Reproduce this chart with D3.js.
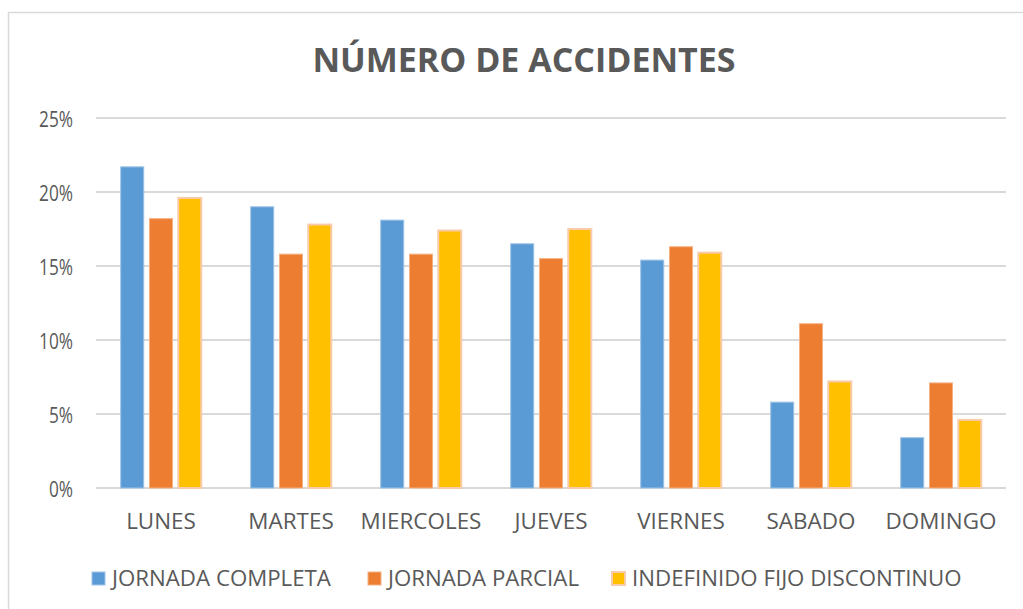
<!DOCTYPE html>
<html><head><meta charset="utf-8">
<script src="https://cdn.jsdelivr.net/npm/d3@7"></script>
<style>body{margin:0;background:#fff}svg{display:block}</style>
</head><body><svg id="c" width="1023" height="609"></svg>
<script>
const categories = ["LUNES","MARTES","MIERCOLES","JUEVES","VIERNES","SABADO","DOMINGO"];
const seriesNames = ["JORNADA COMPLETA","JORNADA PARCIAL","INDEFINIDO FIJO DISCONTINUO"];
const jornadaCompleta = [21.7, 19.0, 18.1, 16.5, 15.4, 5.8, 3.4];
const jornadaParcial = [18.2, 15.8, 15.8, 15.5, 16.3, 11.1, 7.1];
const indefinidoFijo = [19.6, 17.8, 17.4, 17.5, 15.9, 7.2, 4.6];
const yTicks = [0, 5, 10, 15, 20, 25];
const colors = ["#5b9bd5", "#ed7d31", "#ffc000"];
const strokes = ["#9dc3e6", "#f4b183", "#f8cbad"];
const strokeW = [1, 1, 2];
const series = [jornadaCompleta, jornadaParcial, indefinidoFijo];

const svg = d3.select("#c");
const font = "'Open Sans', sans-serif";
function squeeze(sel, f) {
  sel.each(function() {
    const w = this.getComputedTextLength();
    d3.select(this).attr("textLength", w * f).attr("lengthAdjust", "spacingAndGlyphs");
  });
}
// chart border
svg.append("rect").attr("x", 8.5).attr("y", 12.5).attr("width", 1030).attr("height", 620)
  .attr("fill", "#fff").attr("stroke", "#d9d9d9").attr("stroke-width", 1.5);

svg.append("text").attr("x", 524).attr("y", 72).attr("text-anchor", "middle")
  .attr("font-family", font).attr("font-weight", "bold").attr("font-size", 34)
  .attr("fill", "#595959").text("NÚMERO DE ACCIDENTES");

const x0 = d3.scaleBand().domain(categories).range([96, 1006]).paddingInner(0.38).paddingOuter(0.19);
const x1 = d3.scaleBand().domain([0,1,2]).range([0, x0.bandwidth()]).paddingInner(0.2);
const y = d3.scaleLinear().domain([0, 25]).range([488, 118]);

const grid = svg.append("g");
grid.selectAll("line").data(yTicks).join("line")
  .attr("x1", 96).attr("x2", 1006).attr("y1", d => y(d)).attr("y2", d => y(d))
  .attr("stroke", "#d9d9d9").attr("stroke-width", 2);

const yAxis = d3.axisLeft(y).tickValues(yTicks).tickFormat(d => d + "%").tickSize(0).tickPadding(0);
const ya = svg.append("g").attr("transform", "translate(73,0)").call(yAxis);
ya.select(".domain").remove();
ya.selectAll("text").attr("dy", null).attr("y", 8).attr("font-family", font).attr("font-size", 21).attr("fill", "#595959");
squeeze(ya.selectAll("text"), 0.82);

const xAxis = d3.axisBottom(x0).tickSize(0).tickPadding(0);
const xa = svg.append("g").attr("transform", "translate(0,512)").call(xAxis);
xa.select(".domain").remove();
xa.selectAll("text").attr("dy", null).attr("y", 17).attr("font-family", font).attr("font-size", 22).attr("fill", "#595959");
squeeze(xa.selectAll("text"), 1.02);

series.forEach((vals, si) => {
  svg.append("g").selectAll("rect").data(vals).join("rect")
    .attr("x", (d, i) => x0(categories[i]) + x1(si))
    .attr("width", x1.bandwidth())
    .attr("y", d => y(d))
    .attr("height", d => y(0) - y(d))
    .attr("fill", colors[si]).attr("stroke", strokes[si]).attr("stroke-width", strokeW[si]);
});

const legX = [92, 368, 612];
const lg = svg.append("g");
seriesNames.forEach((n, i) => {
  lg.append("rect").attr("x", legX[i]).attr("y", 572).attr("width", 13).attr("height", 13)
    .attr("fill", colors[i]).attr("stroke", strokes[i]).attr("stroke-width", strokeW[i]);
  const t = lg.append("text").attr("x", legX[i] + 20).attr("y", 586).attr("font-family", font)
    .attr("font-size", 21).attr("fill", "#595959").text(n);
  squeeze(t, 1.06);
});
</script></body></html>
